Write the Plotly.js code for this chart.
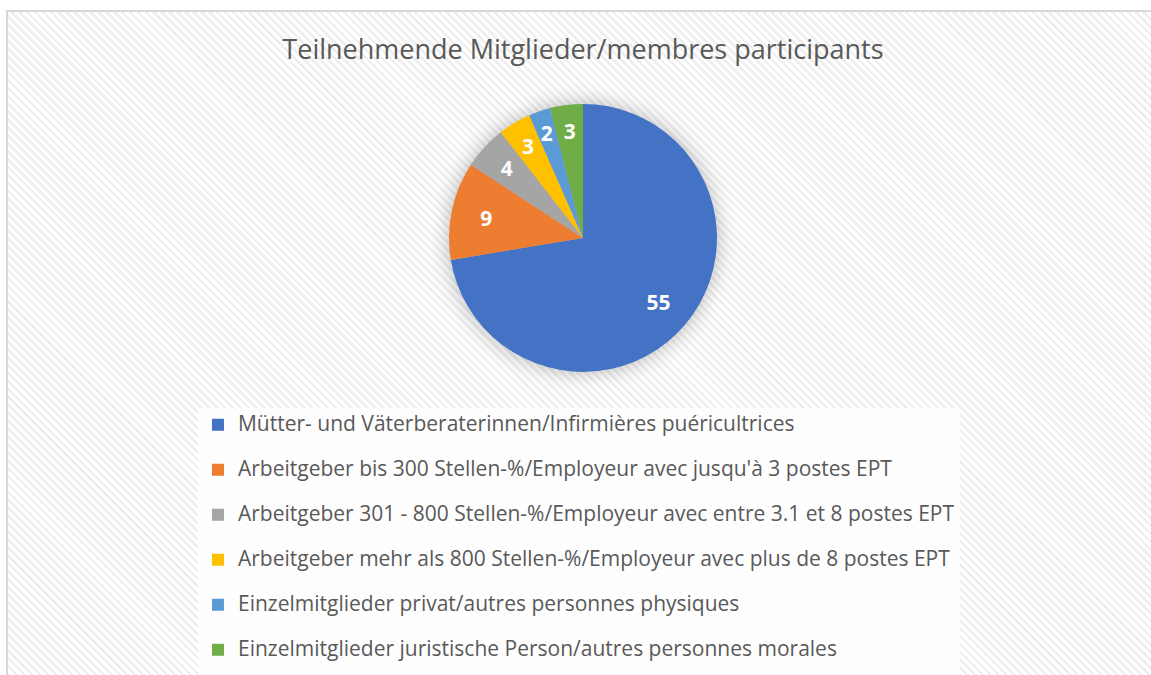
<!DOCTYPE html>
<html>
<head>
<meta charset="utf-8">
<script src="https://cdn.plot.ly/plotly-3.0.1.min.js"></script>
<style>
  html, body { margin: 0; padding: 0; background: #ffffff; }
  #frame {
    position: absolute; left: 6px; top: 10px; width: 1160px; height: 680px;
    border: 2px solid #d9d9d9; box-sizing: border-box;
    background: repeating-linear-gradient(45deg, #ffffff 0px, #ffffff 3px, #efefef 3px, #efefef 5.6px);
  }
  #chart { position: absolute; left: 0; top: 0; width: 1151px; height: 675px; }
  .pielayer .trace:first-child { filter: drop-shadow(0px 0px 10px rgba(0,0,0,0.28)); }
</style>
</head>
<body>
<div id="frame"></div>
<div id="chart"></div>
<script>
const categories = [
  "Mütter- und Väterberaterinnen/Infirmières puéricultrices",
  "Arbeitgeber bis 300 Stellen-%/Employeur avec jusqu'à 3 postes EPT",
  "Arbeitgeber 301 - 800 Stellen-%/Employeur avec entre 3.1 et 8 postes EPT",
  "Arbeitgeber mehr als 800 Stellen-%/Employeur avec plus de 8 postes EPT",
  "Einzelmitglieder privat/autres personnes physiques",
  "Einzelmitglieder juristische Person/autres personnes morales"
];
const members = [55, 9, 4, 3, 2, 3];
const sliceColors = ["#4472c4", "#ed7d31", "#a5a5a5", "#ffc000", "#5b9bd5", "#70ad47"];
const chartTitle = "Teilnehmende Mitglieder/membres participants";

const legendLabels = categories.map(c => '<span style="font-size:21px">' + c + '</span><br> ');
const pieDomain = { x: [0.390, 0.623], y: [0.449, 0.846] };
const labelDomain = { x: [0.4017, 0.6113], y: [0.4688, 0.8261] };

const slices = {
  type: 'pie',
  labels: legendLabels,
  values: members,
  sort: false,
  direction: 'clockwise',
  rotation: 0,
  marker: { colors: sliceColors, line: { width: 0 } },
  textinfo: 'none',
  hoverinfo: 'skip',
  domain: pieDomain,
  showlegend: true
};

const labelRing = {
  type: 'pie',
  labels: legendLabels,
  values: members,
  sort: false,
  direction: 'clockwise',
  rotation: 0,
  hole: 0.64,
  marker: { colors: members.map(() => 'rgba(0,0,0,0)'), line: { width: 0 } },
  textinfo: 'value',
  textposition: 'inside',
  insidetextorientation: 'horizontal',
  insidetextfont: { family: 'Open Sans', size: 21, color: '#ffffff', weight: 'bold' },
  hoverinfo: 'skip',
  domain: labelDomain,
  showlegend: false
};

const layout = {
  width: 1151,
  height: 675,
  margin: { l: 0, r: 0, t: 0, b: 0, autoexpand: false },
  paper_bgcolor: 'rgba(0,0,0,0)',
  plot_bgcolor: 'rgba(0,0,0,0)',
  uniformtext: { mode: 'show', minsize: 21 },
  title: {
    text: chartTitle,
    x: 0.5065, xref: 'paper', xanchor: 'center',
    y: 0.926, yref: 'paper', yanchor: 'middle',
    font: { family: 'Open Sans', size: 27, color: '#595959' }
  },
  legend: {
    orientation: 'v',
    x: 0.172, xanchor: 'left',
    y: 0.396, yanchor: 'top',
    valign: 'top',
    bgcolor: 'rgba(255,255,255,0.8)',
    font: { family: 'Open Sans', size: 16.15, color: '#595959' },
    traceorder: 'normal'
  }
};

Plotly.newPlot('chart', [slices, labelRing], layout, { displayModeBar: false, staticPlot: true });
</script>
</body>
</html>
